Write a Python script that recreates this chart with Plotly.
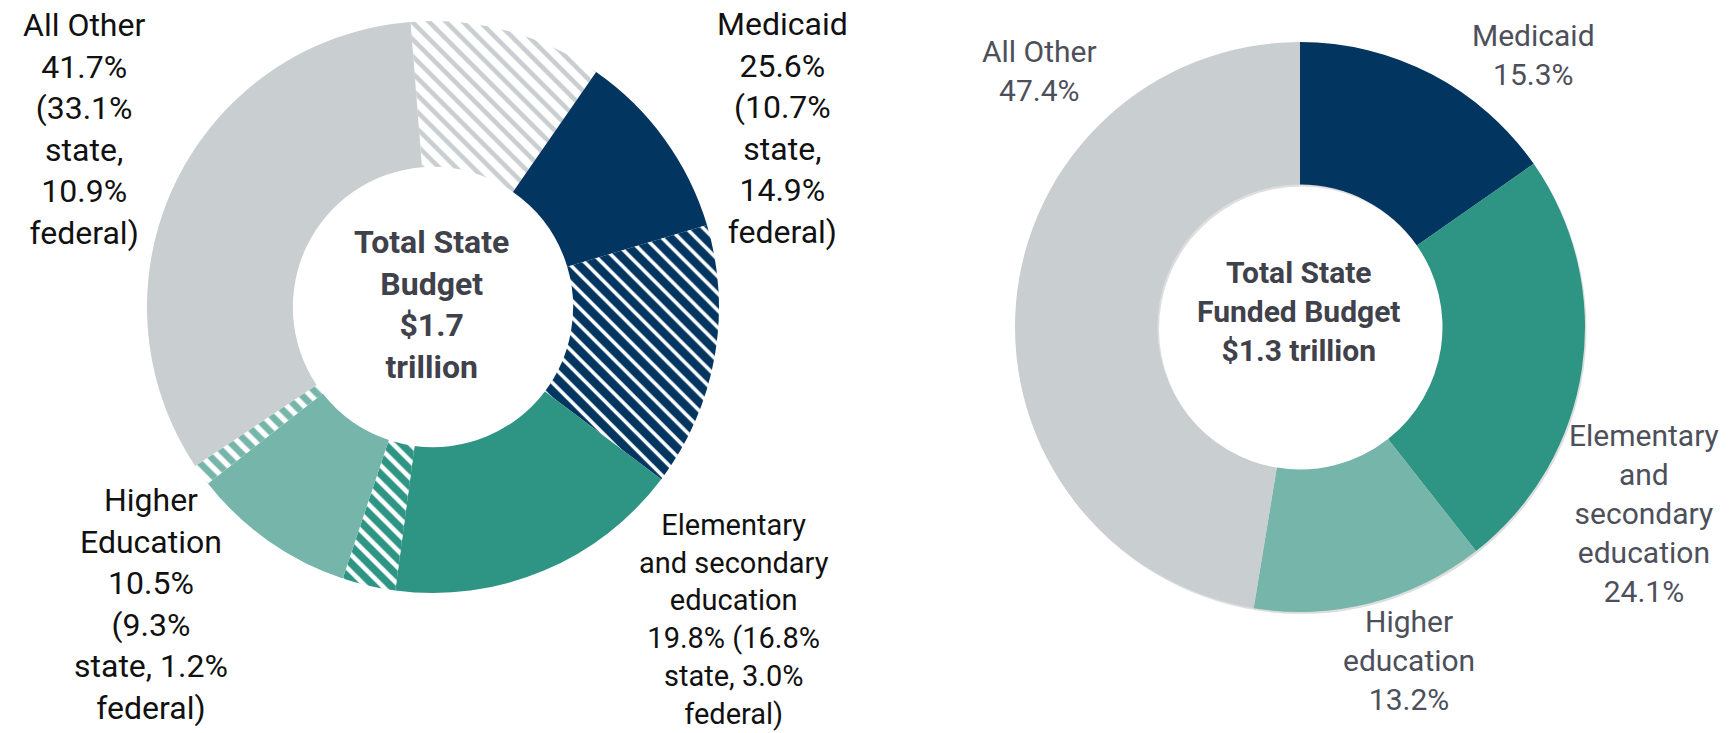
import plotly.graph_objects as go

W, H = 1733, 733

# ---------------- data ----------------
left_slices = ["All Other (federal)", "Medicaid (state)", "Medicaid (federal)",
               "Elementary and secondary education (state)",
               "Elementary and secondary education (federal)",
               "Higher Education (state)", "Higher Education (federal)",
               "All Other (state)"]
left_values = [10.9, 10.7, 14.9, 16.8, 3.0, 9.3, 1.2, 33.1]

right_slices = ["Medicaid", "Elementary and secondary education", "Higher education", "All Other"]
right_values = [15.3, 24.1, 13.2, 47.4]

left_labels = [
    "All Other<br>41.7%<br>(33.1%<br>state,<br>10.9%<br>federal)",
    "Medicaid<br>25.6%<br>(10.7%<br>state,<br>14.9%<br>federal)",
    "Higher<br>Education<br>10.5%<br>(9.3%<br>state, 1.2%<br>federal)",
    "Elementary<br>and secondary<br>education<br>19.8% (16.8%<br>state, 3.0%<br>federal)",
]
right_labels = [
    "Medicaid<br>15.3%",
    "Elementary<br>and<br>secondary<br>education<br>24.1%",
    "Higher<br>education<br>13.2%",
    "All Other<br>47.4%",
]
left_center = "Total State<br>Budget<br>$1.7<br>trillion"
right_center = "Total State<br>Funded Budget<br>$1.3 trillion"

# ---------------- styles ----------------
NAVY = "#02355F"
TEAL = "#2E9483"
LTEAL = "#76B5A9"
GREY = "#C9CED1"

left_colors = [GREY, NAVY, NAVY, TEAL, TEAL, LTEAL, LTEAL, GREY]
left_shapes = ["\\", "", "\\", "", "\\", "", "\\", ""]
left_fg = [GREY, NAVY, "white", TEAL, "white", LTEAL, "white", GREY]
left_bg = ["white", NAVY, NAVY, TEAL, TEAL, LTEAL, LTEAL, GREY]
left_solid = [0.38, 0.3, 0.3, 0.3, 0.38, 0.3, 0.45, 0.3]
right_colors = [NAVY, TEAL, LTEAL, GREY]


def dom(cx, cy, r):
    return dict(x=[(cx - r) / W, (cx + r) / W], y=[1 - (cy + r) / H, 1 - (cy - r) / H])


fig = go.Figure()

fig.add_trace(go.Pie(
    labels=left_slices, values=left_values, sort=False, direction="clockwise",
    rotation=-4.5, hole=0.49, domain=dom(425, 299, 286),
    textinfo="none", hoverinfo="label+value", showlegend=False,
    marker=dict(colors=left_colors, line=dict(width=0),
                pattern=dict(shape=left_shapes, fgcolor=left_fg, bgcolor=left_bg,
                             size=12, solidity=left_solid, fillmode="replace")),
))

# subtle drop shadow for the right donut
fig.add_trace(go.Pie(
    labels=["shadow"], values=[1], sort=False, hole=0.5,
    domain=dom(1293.5, 321, 285),
    textinfo="none", hoverinfo="skip", showlegend=False,
    marker=dict(colors=["rgba(0,0,0,0.13)"], line=dict(width=0)),
))

fig.add_trace(go.Pie(
    labels=right_slices, values=right_values, sort=False, direction="clockwise",
    rotation=0, hole=0.5, domain=dom(1292, 319, 285),
    textinfo="none", hoverinfo="label+value", showlegend=False,
    marker=dict(colors=right_colors, line=dict(width=0)),
))

FONT = "Roboto, 'Noto Sans', sans-serif"

left_pos = [(76, 121, 32), (774, 120, 32), (143, 596, 32), (726, 611, 29)]
right_pos = [(1525, 47), (1636, 505), (1401, 652), (1031, 63)]

annotations = []
for txt, (x, y, s) in zip(left_labels, left_pos):
    annotations.append(dict(text=txt, x=x / W, y=1 - y / H, xref="paper", yref="paper",
                            showarrow=False, xanchor="center", yanchor="middle", align="center",
                            font=dict(family=FONT, size=s, color="#111111")))
for txt, (x, y) in zip(right_labels, right_pos):
    annotations.append(dict(text=txt, x=x / W, y=1 - y / H, xref="paper", yref="paper",
                            showarrow=False, xanchor="center", yanchor="middle", align="center",
                            font=dict(family=FONT, size=30, color="#4D505A")))
annotations.append(dict(text="<b>" + left_center.replace("<br>", "</b><br><b>") + "</b>",
                        x=423 / W, y=1 - 296 / H, xref="paper", yref="paper", showarrow=False,
                        xanchor="center", yanchor="middle", align="center",
                        font=dict(family=FONT, size=32, color="#3F414B")))
annotations.append(dict(text="<b>" + right_center.replace("<br>", "</b><br><b>") + "</b>",
                        x=1291 / W, y=1 - 303 / H, xref="paper", yref="paper", showarrow=False,
                        xanchor="center", yanchor="middle", align="center",
                        font=dict(family=FONT, size=30, color="#3F414B")))

fig.update_layout(
    width=W, height=H, margin=dict(l=0, r=0, t=0, b=0),
    paper_bgcolor="white", plot_bgcolor="white",
    annotations=annotations,
)

fig.write_html("out.html")
